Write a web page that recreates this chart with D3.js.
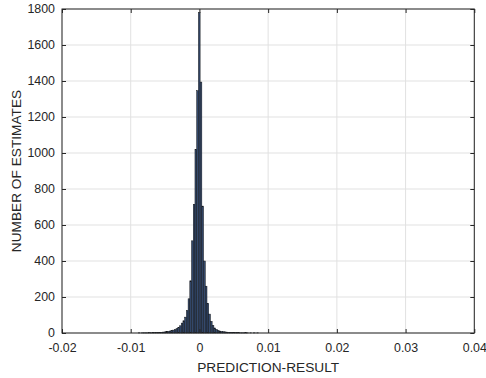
<!DOCTYPE html>
<html>
<head>
<meta charset="utf-8">
<script src="https://cdn.jsdelivr.net/npm/d3@7/dist/d3.min.js"></script>
<style>
  body { margin: 0; background: #ffffff; }
  svg { display: block; font-family: Arial, "Liberation Sans", Helvetica, sans-serif; }
</style>
</head>
<body>
<svg id="chart" width="486" height="378"></svg>
<script>
// Histogram of prediction errors (prediction - result)
const binWidth = 0.00025;
const firstBinStart = -0.00915;   // left edge of the first bin
const counts = [
  0, 1, 0, 1, 1, 1, 1, 2, 1, 2, 2, 3, 3, 4, 4, 5, 6, 7, 9, 11, 13, 16, 19,
  24, 30, 40, 55, 68, 88, 125, 190, 290, 512, 715, 1020, 1346,
  1780,
  1394, 705, 400, 260, 165, 105, 65, 42, 28, 20, 14, 11, 9, 7, 6, 5, 4, 4,
  3, 3, 2, 2, 2, 1, 1, 1, 2, 1, 0, 1, 0, 1, 0, 1
];

const xDomain = [-0.02, 0.04];
const yDomain = [0, 1800];
const xTicks = [-0.02, -0.01, 0, 0.01, 0.02, 0.03, 0.04];
const xTickLabels = ["-0.02", "-0.01", "0", "0.01", "0.02", "0.03", "0.04"];
const yTicks = [0, 200, 400, 600, 800, 1000, 1200, 1400, 1600, 1800];
const xLabel = "PREDICTION-RESULT";
const yLabel = "NUMBER OF ESTIMATES";

const bins = counts.map((c, i) => ({
  x0: firstBinStart + i * binWidth,
  x1: firstBinStart + (i + 1) * binWidth,
  count: c
}));

const plot = { left: 62, right: 474.3, top: 9, bottom: 333 };
const svg = d3.select("#chart");

const x = d3.scaleLinear().domain(xDomain).range([plot.left, plot.right]);
const y = d3.scaleLinear().domain(yDomain).range([plot.bottom, plot.top]);

// grid
const grid = svg.append("g").attr("stroke", "#e1e1e1").attr("stroke-width", 1);
grid.selectAll("line.gx").data(xTicks).join("line")
  .attr("x1", d => x(d)).attr("x2", d => x(d))
  .attr("y1", plot.top).attr("y2", plot.bottom);
grid.selectAll("line.gy").data(yTicks).join("line")
  .attr("x1", plot.left).attr("x2", plot.right)
  .attr("y1", d => y(d)).attr("y2", d => y(d));

// bars
svg.append("g").selectAll("rect").data(bins.filter(b => b.count > 0)).join("rect")
  .attr("x", d => x(d.x0))
  .attr("width", d => x(d.x1) - x(d.x0))
  .attr("y", d => y(d.count))
  .attr("height", d => y(0) - y(d.count))
  .attr("fill", "#34496c")
  .attr("stroke", "#111418")
  .attr("stroke-width", 0.5);

// axes (ticks point inward)
const xAxis = d3.axisBottom(x).tickValues(xTicks)
  .tickFormat((d, i) => xTickLabels[i]).tickSizeInner(-4).tickSizeOuter(0).tickPadding(10);
const yAxis = d3.axisLeft(y).tickValues(yTicks).tickFormat(d3.format("d"))
  .tickSizeInner(-4).tickSizeOuter(0).tickPadding(7);

const gx = svg.append("g").attr("transform", `translate(0,${plot.bottom})`).call(xAxis);
const gy = svg.append("g").attr("transform", `translate(${plot.left},0)`).call(yAxis);
[gx, gy].forEach(g => {
  g.select(".domain").remove();
  g.selectAll(".tick line").attr("stroke", "#262626");
  g.selectAll(".tick text").attr("fill", "#262626")
    .style("font-size", "12.4px").style("font-family", "Arial, 'Liberation Sans', sans-serif");
});

// top and right ticks
const gt = svg.append("g").attr("transform", `translate(0,${plot.top})`)
  .call(d3.axisTop(x).tickValues(xTicks).tickFormat("").tickSizeInner(-4).tickSizeOuter(0));
const gr = svg.append("g").attr("transform", `translate(${plot.right},0)`)
  .call(d3.axisRight(y).tickValues(yTicks).tickFormat("").tickSizeInner(-4).tickSizeOuter(0));
[gt, gr].forEach(g => {
  g.select(".domain").remove();
  g.selectAll(".tick line").attr("stroke", "#262626");
});

// box
svg.append("rect")
  .attr("x", plot.left).attr("y", plot.top)
  .attr("width", plot.right - plot.left).attr("height", plot.bottom - plot.top)
  .attr("fill", "none").attr("stroke", "#262626").attr("stroke-width", 1);

// axis labels
svg.append("text")
  .attr("x", (plot.left + plot.right) / 2).attr("y", 372)
  .attr("text-anchor", "middle").attr("fill", "#262626")
  .style("font-size", "13.7px").text(xLabel);
svg.append("text")
  .attr("transform", `translate(21,${(plot.top + plot.bottom) / 2}) rotate(-90)`)
  .attr("text-anchor", "middle").attr("fill", "#262626")
  .style("font-size", "13.7px").text(yLabel);
</script>
</body>
</html>
